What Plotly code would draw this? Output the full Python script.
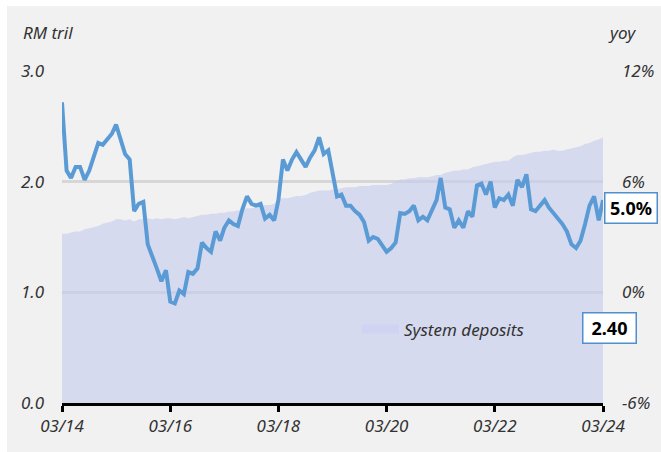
import pandas as pd
import plotly.graph_objects as go
from plotly.subplots import make_subplots

# ---- data ----
dates = pd.date_range("2014-03-01", "2024-03-01", freq="MS")

deposits = [
    1.53, 1.53, 1.54, 1.55, 1.55, 1.57, 1.58, 1.59, 1.60, 1.62,
    1.63, 1.64, 1.66, 1.66, 1.65, 1.66, 1.64, 1.66, 1.66, 1.67, 1.66, 1.67,
    1.66, 1.67, 1.67, 1.66, 1.67, 1.68, 1.67, 1.68, 1.69, 1.70, 1.70, 1.71,
    1.71, 1.72, 1.72, 1.73, 1.73, 1.74, 1.75, 1.76, 1.76, 1.77, 1.78, 1.79,
    1.79, 1.80, 1.84, 1.85, 1.85, 1.86, 1.87, 1.87, 1.88, 1.90, 1.91, 1.92,
    1.92, 1.92, 1.93, 1.93, 1.94, 1.95, 1.95, 1.95, 1.96, 1.96, 1.96, 1.97,
    1.97, 1.97, 1.97, 1.98, 2.00, 2.02, 2.02, 2.03, 2.03, 2.04, 2.04, 2.04,
    2.05, 2.06, 2.06, 2.08, 2.09, 2.10, 2.10, 2.11, 2.11, 2.13, 2.14, 2.15,
    2.16, 2.17, 2.18, 2.18, 2.19, 2.19, 2.22, 2.24, 2.24, 2.25, 2.26, 2.27,
    2.27, 2.28, 2.28, 2.29, 2.28, 2.28, 2.29, 2.30, 2.31, 2.32, 2.34, 2.35,
    2.37, 2.38, 2.40,
]

yoy = [
    10.3, 6.6, 6.2, 6.8, 6.8, 6.1, 6.6, 7.4, 8.1, 8.0,
    8.3, 8.6, 9.1, 8.3, 7.5, 7.2, 4.4, 4.8, 4.9, 2.6, 2.0, 1.3,
    0.6, 1.2, -0.5, -0.6, 0.1, -0.1, 1.1, 1.0, 1.3, 2.7, 2.4, 2.2,
    3.3, 2.8, 3.5, 3.9, 3.7, 3.6, 4.5, 5.2, 4.8, 4.7, 4.8, 4.0,
    4.2, 3.9, 5.0, 7.2, 6.6, 7.2, 7.6, 7.2, 6.8, 7.3, 7.7, 8.4,
    7.5, 7.7, 6.4, 5.2, 5.3, 4.7, 4.7, 4.4, 4.2, 3.8, 2.8, 3.0,
    2.9, 2.5, 2.2, 2.4, 2.7, 4.3, 4.25, 4.4, 4.7, 3.9, 4.1, 3.9,
    4.5, 5.0, 6.2, 4.6, 4.5, 3.5, 3.9, 3.5, 4.4, 4.1, 5.8, 5.9,
    5.3, 6.0, 4.6, 5.1, 5.0, 5.3, 4.7, 6.1, 5.7, 6.4, 4.5, 4.4,
    4.7, 5.0, 4.6, 4.3, 4.0, 3.7, 3.3, 2.6, 2.4, 2.8, 3.7, 4.7,
    5.2, 3.9, 5.0,
]

left_ticks = [0, 1, 2, 3]
left_labels = ["0.0", "1.0", "2.0", "3.0"]
right_ticks = [-6, 0, 6, 12]
right_labels = ["-6%", "0%", "6%", "12%"]
x_ticks = pd.date_range("2014-03-01", "2024-03-01", freq="24MS")
x_labels = ["03/14", "03/16", "03/18", "03/20", "03/22", "03/24"]

series_name = "System deposits"
last_dep_label = "2.40"
last_yoy_label = "5.0%"

# ---- figure ----
W, H = 661, 452
L, R, T, B = 62, 58, 71, 49
PW, PH = W - L - R, H - T - B


def px(xpix):
    return (xpix - L) / PW


def py(ypix):
    return (H - B - ypix) / PH


FONT = "Noto Sans"
TXT = "#333333"
BLUE = "#5b9bd5"
FS = 17

fig = make_subplots(specs=[[{"secondary_y": True}]])

fig.add_trace(
    go.Scatter(
        x=dates, y=deposits, mode="lines", fill="tozeroy",
        line=dict(width=0, color="rgba(196,203,238,0.6)"),
        fillcolor="rgba(196,203,238,0.6)", name=series_name,
        showlegend=False, hoverinfo="skip",
    ),
    secondary_y=False,
)
fig.add_trace(
    go.Scatter(
        x=dates, y=yoy, mode="lines",
        line=dict(width=4, color=BLUE), name="yoy",
        showlegend=False,
    ),
    secondary_y=True,
)

fig.update_layout(
    width=W, height=H,
    margin=dict(l=L, r=R, t=T, b=B, pad=0, autoexpand=False),
    paper_bgcolor="white",
    plot_bgcolor="rgba(0,0,0,0)",
    showlegend=False,
    font=dict(family=FONT, color=TXT, size=FS),
    shapes=[
        dict(type="rect", xref="paper", yref="paper",
             x0=px(7), x1=px(W + 2), y0=py(H + 2), y1=py(6),
             fillcolor="#f1f1f1", line=dict(width=0), layer="below"),
        dict(type="rect", xref="paper", yref="paper",
             x0=px(362), x1=px(399), y0=py(333.5), y1=py(324.5),
             fillcolor="rgb(206,212,242)", line=dict(width=0), layer="above"),
    ],
)

fig.update_xaxes(
    domain=[0, 1],
    range=[dates[0], dates[-1]], automargin=False,
    tickvals=list(x_ticks), ticktext=x_labels,
    showgrid=False, zeroline=False,
    showline=True, linecolor="black", linewidth=2.5,
    ticks="outside", ticklen=6, tickwidth=2.5, tickcolor="black",
    tickfont=dict(family=FONT, size=FS, color=TXT, style="italic"),
    ticklabelstandoff=0,
)
fig.update_yaxes(
    range=[0, 3], tickvals=left_ticks, ticktext=left_labels, automargin=False,
    showgrid=True, gridcolor="#d6d6d6", gridwidth=3,
    zeroline=False, showline=False, ticks="",
    tickfont=dict(family=FONT, size=FS, color=TXT, style="italic"),
    ticklabelstandoff=17,
    secondary_y=False,
)
fig.update_yaxes(
    range=[-6, 12], tickvals=right_ticks, ticktext=right_labels, automargin=False,
    showgrid=False, zeroline=False, showline=False, ticks="",
    tickfont=dict(family=FONT, size=FS, color=TXT, style="italic"),
    ticklabelstandoff=18,
    secondary_y=True,
)

ann_font = dict(family=FONT, size=FS, color=TXT, style="italic")
fig.add_annotation(xref="paper", yref="paper", x=px(21), y=py(32),
                   xanchor="left", yanchor="middle", text="RM tril",
                   showarrow=False, font=ann_font)
fig.add_annotation(xref="paper", yref="paper", x=px(606), y=py(32),
                   xanchor="left", yanchor="middle", text="yoy",
                   showarrow=False, font=ann_font)
fig.add_annotation(xref="paper", yref="paper", x=px(402), y=py(329),
                   xanchor="left", yanchor="middle", text=series_name,
                   showarrow=False, font=ann_font)

box_font = dict(family=FONT, size=18, color="black", weight="bold")
fig.add_annotation(xref="paper", yref="paper", x=px(630.5), y=py(208),
                   xanchor="center", yanchor="middle", text=last_yoy_label,
                   showarrow=False, font=box_font, bgcolor="white",
                   bordercolor="#4f8fcc", borderwidth=1.5, borderpad=2,
                   width=47, height=25)
fig.add_annotation(xref="paper", yref="paper", x=px(609.5), y=py(328),
                   xanchor="center", yanchor="middle", text=last_dep_label,
                   showarrow=False, font=box_font, bgcolor="white",
                   bordercolor="#4f8fcc", borderwidth=1.5, borderpad=2,
                   width=48, height=25)

fig.write_html("out.html")
